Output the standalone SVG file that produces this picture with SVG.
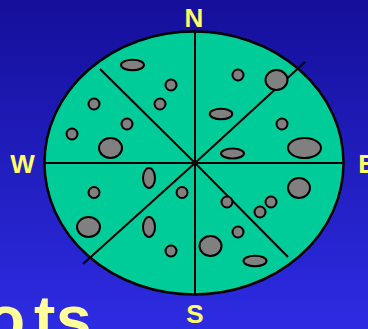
<svg xmlns="http://www.w3.org/2000/svg" width="368" height="329" viewBox="0 0 368 329">
<defs>
<linearGradient id="bg" x1="0" y1="0" x2="0" y2="1">
<stop offset="0" stop-color="#150f9a"/>
<stop offset="1" stop-color="#2d2ce2"/>
</linearGradient>
</defs>
<style>
.dir{font-family:"Liberation Sans",Arial,sans-serif;font-weight:bold;font-size:26px;fill:#ffff66;text-anchor:middle}
.spot{fill:#808080;stroke:#000;stroke-width:2}
.ln{stroke:#000;stroke-width:2;fill:none}
</style>
<rect width="368" height="329" fill="url(#bg)"/>
<g id="disk">
<ellipse cx="194" cy="163" rx="149.5" ry="131.5" fill="#00cc99" stroke="#000" stroke-width="2.5"/>
</g>
<g id="connectors">
<line class="ln" x1="195" y1="32" x2="195" y2="295"/>
<line class="ln" x1="44" y1="163" x2="344" y2="163"/>
<line class="ln" x1="195" y1="163" x2="305" y2="62"/>
<line class="ln" x1="100" y1="69" x2="195" y2="163"/>
<line class="ln" x1="195" y1="163" x2="83" y2="264"/>
<line class="ln" x1="195" y1="163" x2="288" y2="257"/>
</g>
<g id="spots">
<ellipse class="spot" cx="132.5" cy="65" rx="11.5" ry="5.3"/>
<circle class="spot" cx="171" cy="85" r="5.5"/>
<circle class="spot" cx="94" cy="104" r="5.5"/>
<circle class="spot" cx="160" cy="104" r="5.5"/>
<circle class="spot" cx="127" cy="124" r="5.5"/>
<circle class="spot" cx="72" cy="134" r="5.5"/>
<ellipse class="spot" cx="110.5" cy="148" rx="11.5" ry="10"/>
<circle class="spot" cx="238" cy="75" r="5.5"/>
<ellipse class="spot" cx="276.5" cy="80" rx="11" ry="10"/>
<ellipse class="spot" cx="221" cy="114" rx="11.3" ry="5.3"/>
<circle class="spot" cx="282" cy="124" r="5.5"/>
<ellipse class="spot" cx="304.5" cy="148" rx="16.5" ry="10"/>
<ellipse class="spot" cx="232.5" cy="153.5" rx="11.5" ry="5"/>
<ellipse class="spot" cx="149" cy="178" rx="6" ry="10"/>
<circle class="spot" cx="94" cy="192.5" r="5.5"/>
<circle class="spot" cx="182" cy="192.5" r="5.5"/>
<ellipse class="spot" cx="88.5" cy="227" rx="11.5" ry="10"/>
<ellipse class="spot" cx="149" cy="227" rx="6" ry="10"/>
<circle class="spot" cx="171" cy="251" r="5.5"/>
<ellipse class="spot" cx="299" cy="188" rx="11" ry="10"/>
<circle class="spot" cx="227" cy="202" r="5.5"/>
<circle class="spot" cx="271" cy="202" r="5.5"/>
<circle class="spot" cx="260" cy="212" r="5.5"/>
<circle class="spot" cx="238" cy="232" r="5.5"/>
<ellipse class="spot" cx="210.5" cy="246" rx="11" ry="10"/>
<ellipse class="spot" cx="255" cy="261" rx="11.5" ry="5.3"/>
</g>
<g id="labels">
<text class="dir" x="194" y="26.5">N</text>
<text class="dir" x="195" y="323">S</text>
<text class="dir" x="22.5" y="172.5">W</text>
<text class="dir" x="367" y="172.5">E</text>
<text x="-14 34 56" y="341" font-family="'Liberation Sans',Arial,sans-serif" font-weight="bold" font-size="64" fill="#ffff99">ots</text>
</g>
</svg>
